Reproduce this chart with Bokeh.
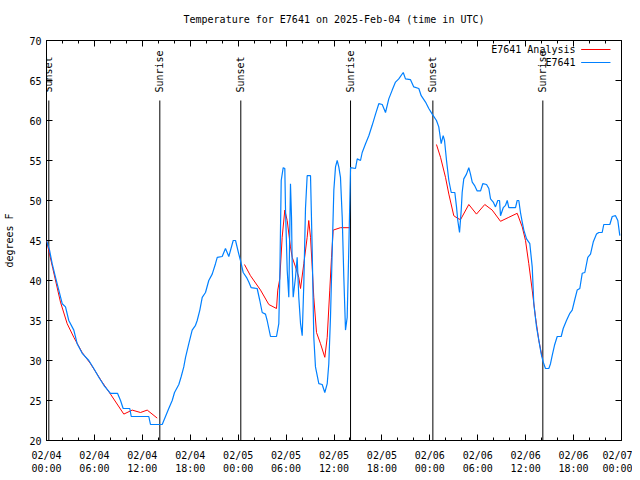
import math
from bokeh.plotting import figure
from bokeh.models import FixedTicker, LinearAxis, Range1d, Label, CustomLabelingPolicy
from bokeh.core.properties import value
from bokeh.embed import file_html
from bokeh.resources import INLINE

FONT = "DejaVu Sans Mono"
NAN = float("nan")

# ---------------- data (hours since 2025-02-04 00:00 UTC) ----------------
obs_hours = [0.0, 0.38, 0.71, 1.13, 1.54, 1.97, 2.38, 2.79, 3.42, 3.84, 4.47, 5.30, 5.92, 6.55, 7.18,
             8.01, 8.89, 9.27, 9.60, 10.43, 10.61, 12.81, 13.02, 14.49, 14.90, 15.31, 15.74, 16.03,
             16.57, 16.87, 17.19, 17.41, 17.82, 18.24, 18.66, 18.87, 19.20, 19.50, 19.91, 20.32,
             20.75, 21.16, 21.38, 22.00, 22.41, 22.83, 23.38, 23.67, 24.08, 24.29, 24.63, 25.04,
             25.33, 25.63, 26.38, 26.71, 27.01, 27.42, 27.63, 28.05, 28.80, 29.09, 29.21, 29.39,
             29.64, 29.84, 29.93, 30.14, 30.34, 30.55, 30.68, 30.77, 30.89, 31.18, 31.39, 31.59,
             31.81, 32.02, 32.22, 32.43, 32.64, 33.06, 33.27, 33.47, 33.68, 34.10, 34.52, 34.85,
             35.15, 35.35, 35.56, 35.78, 35.98, 36.19, 36.40, 36.60, 36.81, 37.03, 37.23, 37.44,
             37.65, 37.85, 38.07, 38.69, 38.91, 39.32, 39.53, 39.95, 40.36, 40.78, 41.20, 41.61,
             42.04, 42.45, 42.86, 43.29, 43.70, 44.11, 44.67, 44.95, 45.58, 45.99, 46.62, 46.92,
             47.46, 47.87, 48.30, 48.83, 49.12, 49.42, 49.67, 49.84, 50.09, 50.38, 50.68, 51.13,
             51.34, 51.50, 51.72, 51.93, 52.05, 52.25, 52.59, 52.88, 53.09, 53.31, 53.59, 53.93,
             54.35, 54.63, 55.10, 55.39, 55.60, 55.94, 56.22, 56.51, 56.73, 56.85, 57.19, 57.48,
             57.69, 57.89, 58.73, 58.94, 59.14, 59.35, 59.57, 59.77, 60.11, 60.52, 60.82, 61.02,
             61.36, 61.65, 61.95, 62.20, 62.48, 62.90, 63.11, 63.32, 63.61, 63.95, 64.45, 64.70,
             65.11, 65.53, 65.83, 66.12, 66.45, 66.78, 67.08, 67.41, 67.78, 68.12, 68.46, 68.87,
             69.16, 69.58, 69.78, 70.54, 70.84, 71.25, 71.54, 71.79]
obs_temps = [45, 43.8, 42.1, 40.4, 38.8, 37.1, 36.7, 35, 33.8, 32.1, 30.9, 30, 29, 27.9, 26.9,
             25.9, 25.9, 25, 24, 24, 23, 23, 22, 22, 23, 24, 25, 26,
             27, 28, 29.2, 30.4, 32.1, 33.8, 34.4, 35, 36.3, 37.9, 38.5, 40,
             40.8, 42.1, 42.9, 43, 44, 43, 45, 45, 43.3, 42.5, 41, 40.4,
             39.8, 39.1, 39, 37.5, 36, 35.8, 35, 33, 33, 34.6, 40.2, 52.5,
             54.1, 54, 48.8, 41.3, 37.9, 52.1, 47.9, 41.7, 37.9, 40.4, 42.9, 37.9,
             34.6, 33.1, 39.6, 49, 53.1, 53.1, 43.8, 32.9, 29.2, 27.1, 27, 26,
             27.1, 29.6, 35.4, 43.8, 51.3, 54.2, 55, 54.2, 52.9, 47.9, 40.4, 33.8,
             35.4, 43.8, 54.1, 54, 55.2, 55, 56, 57.1, 58.1, 59.4, 60.8, 62.1,
             62, 61, 62.7, 63.8, 64.8, 65.2, 66, 65.2, 65.1, 64.2, 64, 63.1,
             62.3, 61.5, 60.8, 60, 59.2, 57.1, 58.1, 57.5, 55, 52.5, 51, 51,
             49.2, 47.5, 46, 48.8, 51, 52.7, 53.3, 54.1, 53.3, 52.3, 51.9, 51.2,
             51.2, 52.1, 52, 51.5, 50.2, 49.8, 49.2, 50, 50, 48.1, 49.1, 49.4,
             50, 49.1, 49.1, 50, 50, 48.5, 47.3, 46.3, 45.2, 44.6, 41.7, 37.1,
             34.2, 32.5, 30.8, 29.8, 29, 29, 29.6, 30.6, 31.9, 33, 33, 34,
             35, 35.9, 36.3, 37.5, 38.8, 39, 40.9, 41, 42.9, 43.3, 44.8, 45.8,
             46, 46, 47, 47, 48, 48.1, 47.5, 45.6]

ana_hours = [0.0, 0.79, 1.75, 2.59, 3.42, 4.47, 5.51, 6.97, 8.01, 9.68, 10.73, 11.77, 12.61, 13.86, NAN,
             24.79, 25.54, 26.80, 27.84, 28.80, 28.96, 29.21, 29.51, 29.84, 30.14, 30.55, 30.77, 31.18,
             31.59, 31.81, 32.22, 32.64, 32.84, 33.06, 33.27, 33.47, 33.81, 34.31, 34.85, 35.15, 35.47,
             35.69, 35.90, 36.81, 37.98, NAN,
             48.83, 49.34, 49.96, 50.38, 51.00, 51.43, 51.84, 52.88, 53.84, 54.88, 55.81, 56.85, 57.89,
             58.94, 59.57, 59.98, 60.39, 60.82, 61.23, 61.65, 62.07]
ana_temps = [45, 41.5, 37.3, 34.6, 32.9, 31, 29.6, 27.3, 25.8, 23.3, 23.8, 23.5, 23.8, 22.8, NAN,
             42, 40.6, 38.8, 37, 36.5, 38.8, 40.2, 45.4, 48.8, 47.5, 44.2, 42.9, 41.7,
             40.4, 39, 42.1, 45.4, 47.5, 45.4, 41.7, 37.9, 33.5, 32.1, 30.4, 32.9, 38.8,
             42.9, 46.3, 46.6, 46.6, NAN,
             57, 55.4, 52.9, 50.8, 48.1, 47.8, 47.6, 49.5, 48.3, 49.5, 48.8, 47.4, 47.9,
             48.4, 46.7, 45, 42.1, 38.8, 35.4, 32.5, 30.4]

sun_hours = [0.29, 14.19, 24.33, 38.07, 48.38, 62.15]
sun_labels = ["Sunset", "Sunrise", "Sunset", "Sunrise", "Sunset", "Sunrise"]

x_ticks = [0, 6, 12, 18, 24, 30, 36, 42, 48, 54, 60, 66, 72]
x_tick_labels = ["02/04\n00:00", "02/04\n06:00", "02/04\n12:00", "02/04\n18:00",
                 "02/05\n00:00", "02/05\n06:00", "02/05\n12:00", "02/05\n18:00",
                 "02/06\n00:00", "02/06\n06:00", "02/06\n12:00", "02/06\n18:00",
                 "02/07\n00:00"]
x_minor = list(range(0, 73, 2))
y_ticks = [20, 25, 30, 35, 40, 45, 50, 55, 60, 65, 70]

series_names = ["E7641 Analysis", "E7641"]
series_colors = ["#ff0000", "#0080ff"]

# ---------------- figure ----------------
p = figure(width=632, height=478, output_backend="svg", toolbar_location=None,
           x_range=Range1d(0, 72), y_range=Range1d(20, 70),
           min_border_left=46, min_border_right=11, min_border_top=40, min_border_bottom=38,
           title="Temperature for E7641 on 2025-Feb-04 (time in UTC)")
p.title.align = "center"
p.title.text_font = FONT
p.title.text_font_size = "10px"
p.title.text_font_style = "normal"
p.title.text_color = "black"
p.title.standoff = 20

p.grid.visible = False
p.outline_line_color = "black"
p.outline_line_width = 1
p.background_fill_color = "white"
p.border_fill_color = "white"

xticker = FixedTicker(ticks=x_ticks, minor_ticks=x_minor)
yticker = FixedTicker(ticks=y_ticks)

xa = p.xaxis[0]
xa.ticker = xticker
xa.major_label_overrides = {t: l for t, l in zip(x_ticks, x_tick_labels)}
ya = p.yaxis[0]
ya.ticker = yticker
ya.axis_label = "degrees F"

for ax in (xa, ya):
    ax.axis_line_color = None
    ax.major_tick_in = 6
    ax.major_tick_out = 0
    ax.minor_tick_in = 3
    ax.minor_tick_out = 0
    ax.major_tick_line_color = "black"
    ax.major_label_text_font = FONT
    ax.major_label_text_font_size = "10px"
    ax.major_label_text_color = "black"
    ax.axis_label_text_font = FONT
    ax.axis_label_text_font_size = "10px"
    ax.axis_label_text_font_style = "normal"
    ax.axis_label_text_color = "black"
ya.minor_tick_line_color = None
xa.minor_tick_line_color = "black"
xa.major_label_standoff = 9
ya.major_label_standoff = 5
ya.axis_label_standoff = 11

no_labels = CustomLabelingPolicy(code="""
const n = indices.size
for (let i = 0; i < n; i++) { indices.unset(i) }
return indices
""")

# mirrored tick marks on top and right (no labels)
top = LinearAxis(ticker=xticker, axis_line_color=None, major_tick_in=6, major_tick_out=0,
                 minor_tick_in=3, minor_tick_out=0, major_label_text_font_size="0px",
                 major_label_standoff=0, major_tick_line_color="black", minor_tick_line_color="black",
                 major_label_policy=no_labels)
p.add_layout(top, "above")
# invisible spacer to lift the title
spacer = LinearAxis(ticker=xticker, axis_line_color=None, major_tick_in=0, major_tick_out=6,
                    minor_tick_in=0, minor_tick_out=0, major_label_text_font_size="0px",
                    major_label_standoff=0, major_tick_line_color=None, minor_tick_line_color=None,
                    major_label_policy=no_labels)
p.add_layout(spacer, "above")
right = LinearAxis(ticker=yticker, axis_line_color=None, major_tick_in=6, major_tick_out=0,
                   minor_tick_line_color=None, major_label_text_font_size="0px",
                   major_label_standoff=0, major_tick_line_color="black",
                   major_label_policy=no_labels)
p.add_layout(right, "right")

# sunrise / sunset markers
p.segment(x0=sun_hours, y0=[20] * len(sun_hours), x1=sun_hours, y1=[62.5] * len(sun_hours),
          line_color="black", line_width=1)
p.text(x=sun_hours, y=[63.5] * len(sun_hours), text=sun_labels, angle=math.pi / 2,
       text_align="left", text_baseline="middle", text_font=value(FONT),
       text_font_size="10px", text_color="black")

# data
p.line(ana_hours, ana_temps, line_color=series_colors[0], line_width=1)
p.line(obs_hours, obs_temps, line_color=series_colors[1], line_width=1.2)

# legend (gnuplot style: text right-aligned, sample line on the right)
leg_x_text = 66.24
leg_rows = [68.875, 67.25]
for name, col, ry in zip(series_names, series_colors, leg_rows):
    p.add_layout(Label(x=leg_x_text, y=ry, text=name, text_align="right", text_baseline="middle",
                       text_font=FONT, text_font_size="10px", text_color="black"))
    p.segment(x0=[66.95], y0=[ry], x1=[70.62], y1=[ry], line_color=col, line_width=1)

open("out.html", "w").write(file_html(p, INLINE))
